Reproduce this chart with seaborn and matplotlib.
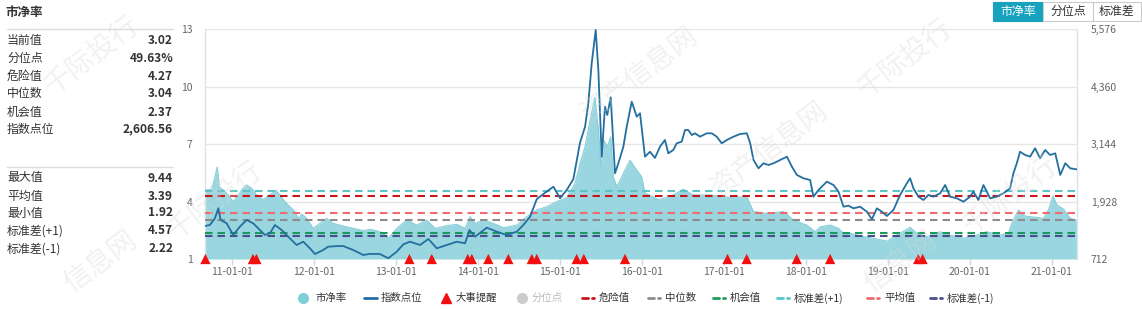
import numpy as np
import pandas as pd
import matplotlib
matplotlib.use("Agg")
import matplotlib.pyplot as plt
import matplotlib.dates as mdates
import matplotlib.ticker as mticker
from matplotlib.lines import Line2D
from matplotlib.patches import Rectangle
import seaborn as sns

# ---------------- data ----------------
pb_year = [2010.675, 2010.756, 2010.796, 2010.824, 2010.849, 2010.898, 2010.959, 2011.020, 2011.080,
           2011.141, 2011.183, 2011.244, 2011.305, 2011.385, 2011.467, 2011.540, 2011.589, 2011.650,
           2011.711, 2011.772, 2011.812, 2011.854, 2011.915, 2011.995, 2012.077, 2012.159, 2012.239,
           2012.361, 2012.483, 2012.605, 2012.687, 2012.768, 2012.849, 2012.910, 2013.012, 2013.134,
           2013.256, 2013.378, 2013.479, 2013.622, 2013.744, 2013.845, 2013.906, 2013.967, 2014.068,
           2014.190, 2014.312, 2014.476, 2014.598, 2014.720, 2014.841, 2014.963, 2015.085, 2015.187,
           2015.248, 2015.309, 2015.370, 2015.430, 2015.471, 2015.504, 2015.540, 2015.580, 2015.622,
           2015.654, 2015.695, 2015.776, 2015.857, 2015.939, 2016.000, 2016.040, 2016.141, 2016.202,
           2016.345, 2016.507, 2016.629, 2016.833, 2017.077, 2017.280, 2017.361, 2017.524, 2017.727,
           2017.849, 2018.012, 2018.113, 2018.174, 2018.296, 2018.398, 2018.459, 2018.540, 2018.662,
           2018.824, 2018.988, 2019.110, 2019.272, 2019.354, 2019.476, 2019.638, 2019.760, 2019.922,
           2020.085, 2020.207, 2020.370, 2020.471, 2020.512, 2020.593, 2020.674, 2020.817, 2020.898,
           2020.959, 2021.012, 2021.061, 2021.141, 2021.223, 2021.305]
pb_value = [4.60, 4.64, 5.30, 5.80, 4.77, 4.60, 4.34, 3.99, 4.34,
            4.69, 4.86, 4.69, 4.34, 4.11, 4.34, 4.60, 4.34, 3.99,
            3.73, 3.47, 3.12, 3.35, 3.12, 2.60, 2.86, 3.12, 2.86,
            2.72, 2.60, 2.48, 2.55, 2.48, 2.34, 2.08, 2.60, 3.03,
            2.77, 3.03, 2.60, 2.74, 2.81, 2.60, 3.21, 2.86, 3.03,
            2.86, 2.63, 2.77, 3.21, 3.56, 3.73, 3.99, 4.20, 4.95,
            5.99, 6.86, 8.25, 9.44, 7.73, 5.82, 7.20, 6.86, 7.38,
            5.29, 4.77, 5.47, 6.16, 5.64, 5.29, 4.43, 4.25, 4.10,
            4.25, 4.64, 4.34, 4.34, 4.22, 4.25, 3.47, 3.38, 3.47,
            3.03, 2.77, 2.42, 2.68, 2.77, 2.60, 2.34, 2.34, 2.20,
            2.08, 1.93, 2.25, 2.65, 2.34, 2.16, 2.42, 2.25, 2.08,
            2.25, 2.42, 2.25, 2.34, 2.86, 3.56, 3.24, 3.17, 3.12,
            3.56, 4.29, 3.82, 3.60, 3.12, 3.02]

idx_year = [2010.675, 2010.735, 2010.796, 2010.837, 2010.866, 2010.939, 2011.020, 2011.101, 2011.183,
            2011.263, 2011.345, 2011.406, 2011.467, 2011.528, 2011.610, 2011.690, 2011.793, 2011.873,
            2011.955, 2012.016, 2012.117, 2012.178, 2012.280, 2012.361, 2012.483, 2012.605, 2012.687,
            2012.809, 2012.910, 2013.012, 2013.093, 2013.174, 2013.296, 2013.398, 2013.500, 2013.622,
            2013.744, 2013.845, 2013.898, 2013.967, 2014.110, 2014.232, 2014.354, 2014.476, 2014.556,
            2014.638, 2014.720, 2014.800, 2014.922, 2015.004, 2015.085, 2015.166, 2015.248, 2015.309,
            2015.349, 2015.390, 2015.439, 2015.471, 2015.512, 2015.552, 2015.580, 2015.622, 2015.674,
            2015.715, 2015.776, 2015.817, 2015.878, 2015.939, 2015.979, 2016.040, 2016.101, 2016.162,
            2016.223, 2016.284, 2016.324, 2016.385, 2016.427, 2016.488, 2016.528, 2016.568, 2016.610,
            2016.650, 2016.711, 2016.793, 2016.854, 2016.915, 2016.976, 2017.037, 2017.117, 2017.199,
            2017.280, 2017.321, 2017.361, 2017.422, 2017.483, 2017.544, 2017.605, 2017.687, 2017.768,
            2017.829, 2017.890, 2017.971, 2018.052, 2018.093, 2018.154, 2018.195, 2018.256, 2018.337,
            2018.398, 2018.459, 2018.520, 2018.580, 2018.662, 2018.744, 2018.805, 2018.866, 2018.927,
            2018.988, 2019.068, 2019.150, 2019.232, 2019.272, 2019.312, 2019.373, 2019.434, 2019.495,
            2019.556, 2019.638, 2019.699, 2019.760, 2019.841, 2019.922, 2020.004, 2020.044, 2020.105,
            2020.166, 2020.248, 2020.329, 2020.410, 2020.491, 2020.532, 2020.573, 2020.613, 2020.674,
            2020.735, 2020.796, 2020.857, 2020.918, 2020.979, 2021.040, 2021.101, 2021.162, 2021.223,
            2021.305]
idx_value = [1410, 1431, 1573, 1784, 1537, 1467, 1220, 1396, 1537,
             1467, 1325, 1220, 1255, 1431, 1325, 1184, 1008, 1078,
             938, 818, 902, 972, 985, 987, 902, 797, 820,
             818, 727, 867, 1023, 1078, 1008, 1135, 938, 1008,
             1078, 1044, 1325, 1184, 1374, 1290, 1220, 1290, 1431,
             1607, 1980, 2085, 2241, 1996, 2171, 2400, 3175, 3510,
             4005, 4851, 5555, 4709, 2876, 3934, 3758, 4132, 2525,
             2736, 3087, 3510, 4039, 3722, 3793, 2876, 2980, 2850,
             3087, 3229, 2947, 3017, 3159, 3193, 3440, 3440, 3334,
             3370, 3299, 3370, 3370, 3299, 3159, 3229, 3299, 3356,
             3370, 3159, 2806, 2630, 2736, 2700, 2736, 2806, 2876,
             2665, 2489, 2419, 2383, 2030, 2171, 2241, 2347, 2277,
             2136, 1818, 1840, 1784, 1818, 1713, 1552, 1784, 1713,
             1621, 1748, 2066, 2313, 2419, 2207, 2030, 1960, 2066,
             2030, 2101, 2277, 2030, 1996, 1924, 2030, 2136, 1960,
             2277, 1996, 2030, 2101, 2207, 2525, 2736, 2981, 2912,
             2876, 3053, 2842, 3017, 2912, 2947, 2489, 2736, 2630,
             2607]

event_year = [2010.680, 2011.260, 2011.302, 2013.166, 2013.439, 2013.878, 2013.927, 2014.129,
              2014.373, 2014.659, 2014.720, 2015.207, 2015.294, 2015.796, 2017.045, 2017.278,
              2017.888, 2018.296, 2019.370, 2019.424]

ref_names = ["危险值", "中位数", "机会值", "标准差(+1)", "平均值", "标准差(-1)"]
ref_values = [4.27, 3.04, 2.37, 4.57, 3.39, 2.22]
ref_colors = ["#c8161d", "#8c8c8c", "#1a9b5b", "#5cc3c7", "#ee6b6e", "#4a4f8c"]

stats_top = [("当前值", "3.02"), ("分位点", "49.63%"), ("危险值", "4.27"),
             ("中位数", "3.04"), ("机会值", "2.37"), ("指数点位", "2,606.56")]
stats_bottom = [("最大值", "9.44"), ("平均值", "3.39"), ("最小值", "1.92"),
                ("标准差(+1)", "4.57"), ("标准差(-1)", "2.22")]

year_ticks = list(range(2011, 2022))
left_ticks = [1, 4, 7, 10, 13]
right_ticks = [712, 1928, 3144, 4360, 5576]

watermarks = [("千际投行", 92, 55), ("千际投行", 215, 200), ("信息网", 100, 262),
              ("资产信息网", 640, 75), ("资产信息网", 770, 150), ("千际投行", 905, 58),
              ("信息网", 900, 262), ("千际投行", 1010, 195)]


def to_dates(years):
    return [pd.Timestamp(int(y), 1, 1) + pd.Timedelta(days=(y - int(y)) * 365.25) for y in years]


pb_df = pd.DataFrame({"date": to_dates(pb_year), "pb": pb_value})
idx_df = pd.DataFrame({"date": to_dates(idx_year), "idx": idx_value})
ev_df = pd.DataFrame({"date": to_dates(event_year), "y": [left_ticks[0]] * len(event_year)})

# ---------------- style ----------------
sns.set_theme(style="white")
plt.rcParams["font.family"] = ["Noto Sans CJK SC", "DejaVu Sans"]

W, H = 1142, 309
fig = plt.figure(figsize=(W / 100, H / 100), dpi=100)


def fx(x):
    return x / W


def fy(y):
    return 1 - y / H


ax = fig.add_axes([fx(205), fy(259), (1077 - 205) / W, (259 - 29) / H])
ax2 = ax.twinx()

# PB area
ax.fill_between(pb_df["date"], left_ticks[0], pb_df["pb"], color="#9ad6df", lw=0, zorder=1)
sns.lineplot(data=pb_df, x="date", y="pb", ax=ax, color="#88cfd9", lw=0.8, zorder=2)

# reference lines
for v, c in zip(ref_values, ref_colors):
    ax.axhline(v, color=c, lw=1.5, ls=(0, (3.6, 2.4)), zorder=3)

# events
sns.scatterplot(data=ev_df, x="date", y="y", ax=ax, marker="^", color="#f01010",
                s=55, edgecolor="none", zorder=6, clip_on=False)

# index line
sns.lineplot(data=idx_df, x="date", y="idx", ax=ax2, color="#236f9f", lw=1.3, zorder=5)

xmin, xmax = pb_df["date"].iloc[0], pb_df["date"].iloc[-1]
ax.set_xlim(xmin, xmax)
ax.set_ylim(left_ticks[0], left_ticks[-1])
ax2.set_ylim(right_ticks[0], right_ticks[-1])
ax.set_yticks(left_ticks)
ax2.set_yticks(right_ticks)
ax2.yaxis.set_major_formatter(mticker.FuncFormatter(lambda v, p: f"{int(v):,}"))
ax.set_xticks([pd.Timestamp(y, 1, 1) for y in year_ticks])
ax.xaxis.set_major_formatter(mdates.DateFormatter("%y-%m-%d"))

ax.grid(axis="y", color="#e6e6e6", lw=1)
ax.set_axisbelow(True)
for s in ["top", "bottom"]:
    ax.spines[s].set_visible(False)
for s in ["left", "right"]:
    ax.spines[s].set_color("#dde3ea")
    ax.spines[s].set_linewidth(1)
for s in ax2.spines.values():
    s.set_visible(False)

ax.set_xlabel("")
ax.set_ylabel("")
ax2.set_xlabel("")
ax2.set_ylabel("")
ax.tick_params(axis="y", length=0, labelsize=7.5, labelcolor="#666666", pad=9)
ax2.tick_params(axis="y", length=0, labelsize=7.5, labelcolor="#666666", pad=10)
ax.tick_params(axis="x", length=4, width=1, color="#ccd6eb", labelsize=7.5,
               labelcolor="#666666", pad=1.5, bottom=True)
if ax.get_legend():
    ax.get_legend().remove()
if ax2.get_legend():
    ax2.get_legend().remove()

# ---------------- left panel ----------------
fig.text(fx(5), fy(12), "市净率", fontsize=9, fontweight="bold", color="#333333", va="center")
fig.add_artist(Line2D([fx(7), fx(173)], [fy(29), fy(29)], color="#dddddd", lw=1))
fig.add_artist(Line2D([fx(7), fx(173)], [fy(167), fy(167)], color="#dddddd", lw=1))
ys_top = [40, 58, 76, 94, 112, 129]
for (lab, val), y in zip(stats_top, ys_top):
    fig.text(fx(7), fy(y), lab, fontsize=8.6, color="#333333", va="center")
    fig.text(fx(173), fy(y), val, fontsize=8.6, fontweight="bold", color="#333333",
             va="center", ha="right")
ys_bot = [178, 196, 213, 231, 249]
for (lab, val), y in zip(stats_bottom, ys_bot):
    fig.text(fx(7), fy(y), lab, fontsize=8.6, color="#333333", va="center")
    fig.text(fx(173), fy(y), val, fontsize=8.6, fontweight="bold", color="#333333",
             va="center", ha="right")

# ---------------- top-right buttons ----------------
btns = [("市净率", 993, 1043, True), ("分位点", 1043, 1093, False), ("标准差", 1093, 1141, False)]
for lab, x0, x1, sel in btns:
    fig.add_artist(Rectangle((fx(x0), fy(21)), (x1 - x0) / W, 19 / H,
                             facecolor="#17a2c0" if sel else "white",
                             edgecolor="#17a2c0" if sel else "#cccccc", lw=0.8))
    fig.text(fx((x0 + x1) / 2), fy(11.5), lab, fontsize=8.6,
             color="white" if sel else "#333333", ha="center", va="center")

# ---------------- legend ----------------
ly = fy(298)
fig.add_artist(Line2D([fx(303)], [ly], marker="o", ms=7, color="#7fcfd8", lw=0))
fig.text(fx(316), ly, "市净率", fontsize=7.5, color="#333333", va="center")
fig.add_artist(Line2D([fx(364), fx(377)], [ly, ly], color="#236f9f", lw=2))
fig.text(fx(381), ly, "指数点位", fontsize=7.5, color="#333333", va="center")
fig.add_artist(Line2D([fx(446)], [ly], marker="^", ms=6.5, color="#f01010", lw=0))
fig.text(fx(456), ly, "大事提醒", fontsize=7.5, color="#333333", va="center")
fig.add_artist(Line2D([fx(522)], [ly], marker="o", ms=7, color="#cccccc", lw=0))
fig.text(fx(532), ly, "分位点", fontsize=7.5, color="#bbbbbb", va="center")
leg_pos = {"危险值": 582, "中位数": 648, "机会值": 713, "标准差(+1)": 777, "平均值": 867, "标准差(-1)": 930}
for name, c in zip(ref_names, ref_colors):
    x0 = leg_pos[name]
    fig.add_artist(Line2D([fx(x0), fx(x0 + 6)], [ly, ly], color=c, lw=2))
    fig.add_artist(Line2D([fx(x0 + 10), fx(x0 + 12)], [ly, ly], color=c, lw=2))
    fig.text(fx(x0 + 17), ly, name, fontsize=7.5, color="#333333", va="center")

# ---------------- faint watermark ----------------
for txt, x, y in watermarks:
    fig.text(fx(x), fy(y), txt, fontsize=20, color="#d8d8d8", alpha=0.35, rotation=37,
             ha="center", va="center", rotation_mode="anchor", zorder=10)

fig.savefig("out.png", dpi=100)
